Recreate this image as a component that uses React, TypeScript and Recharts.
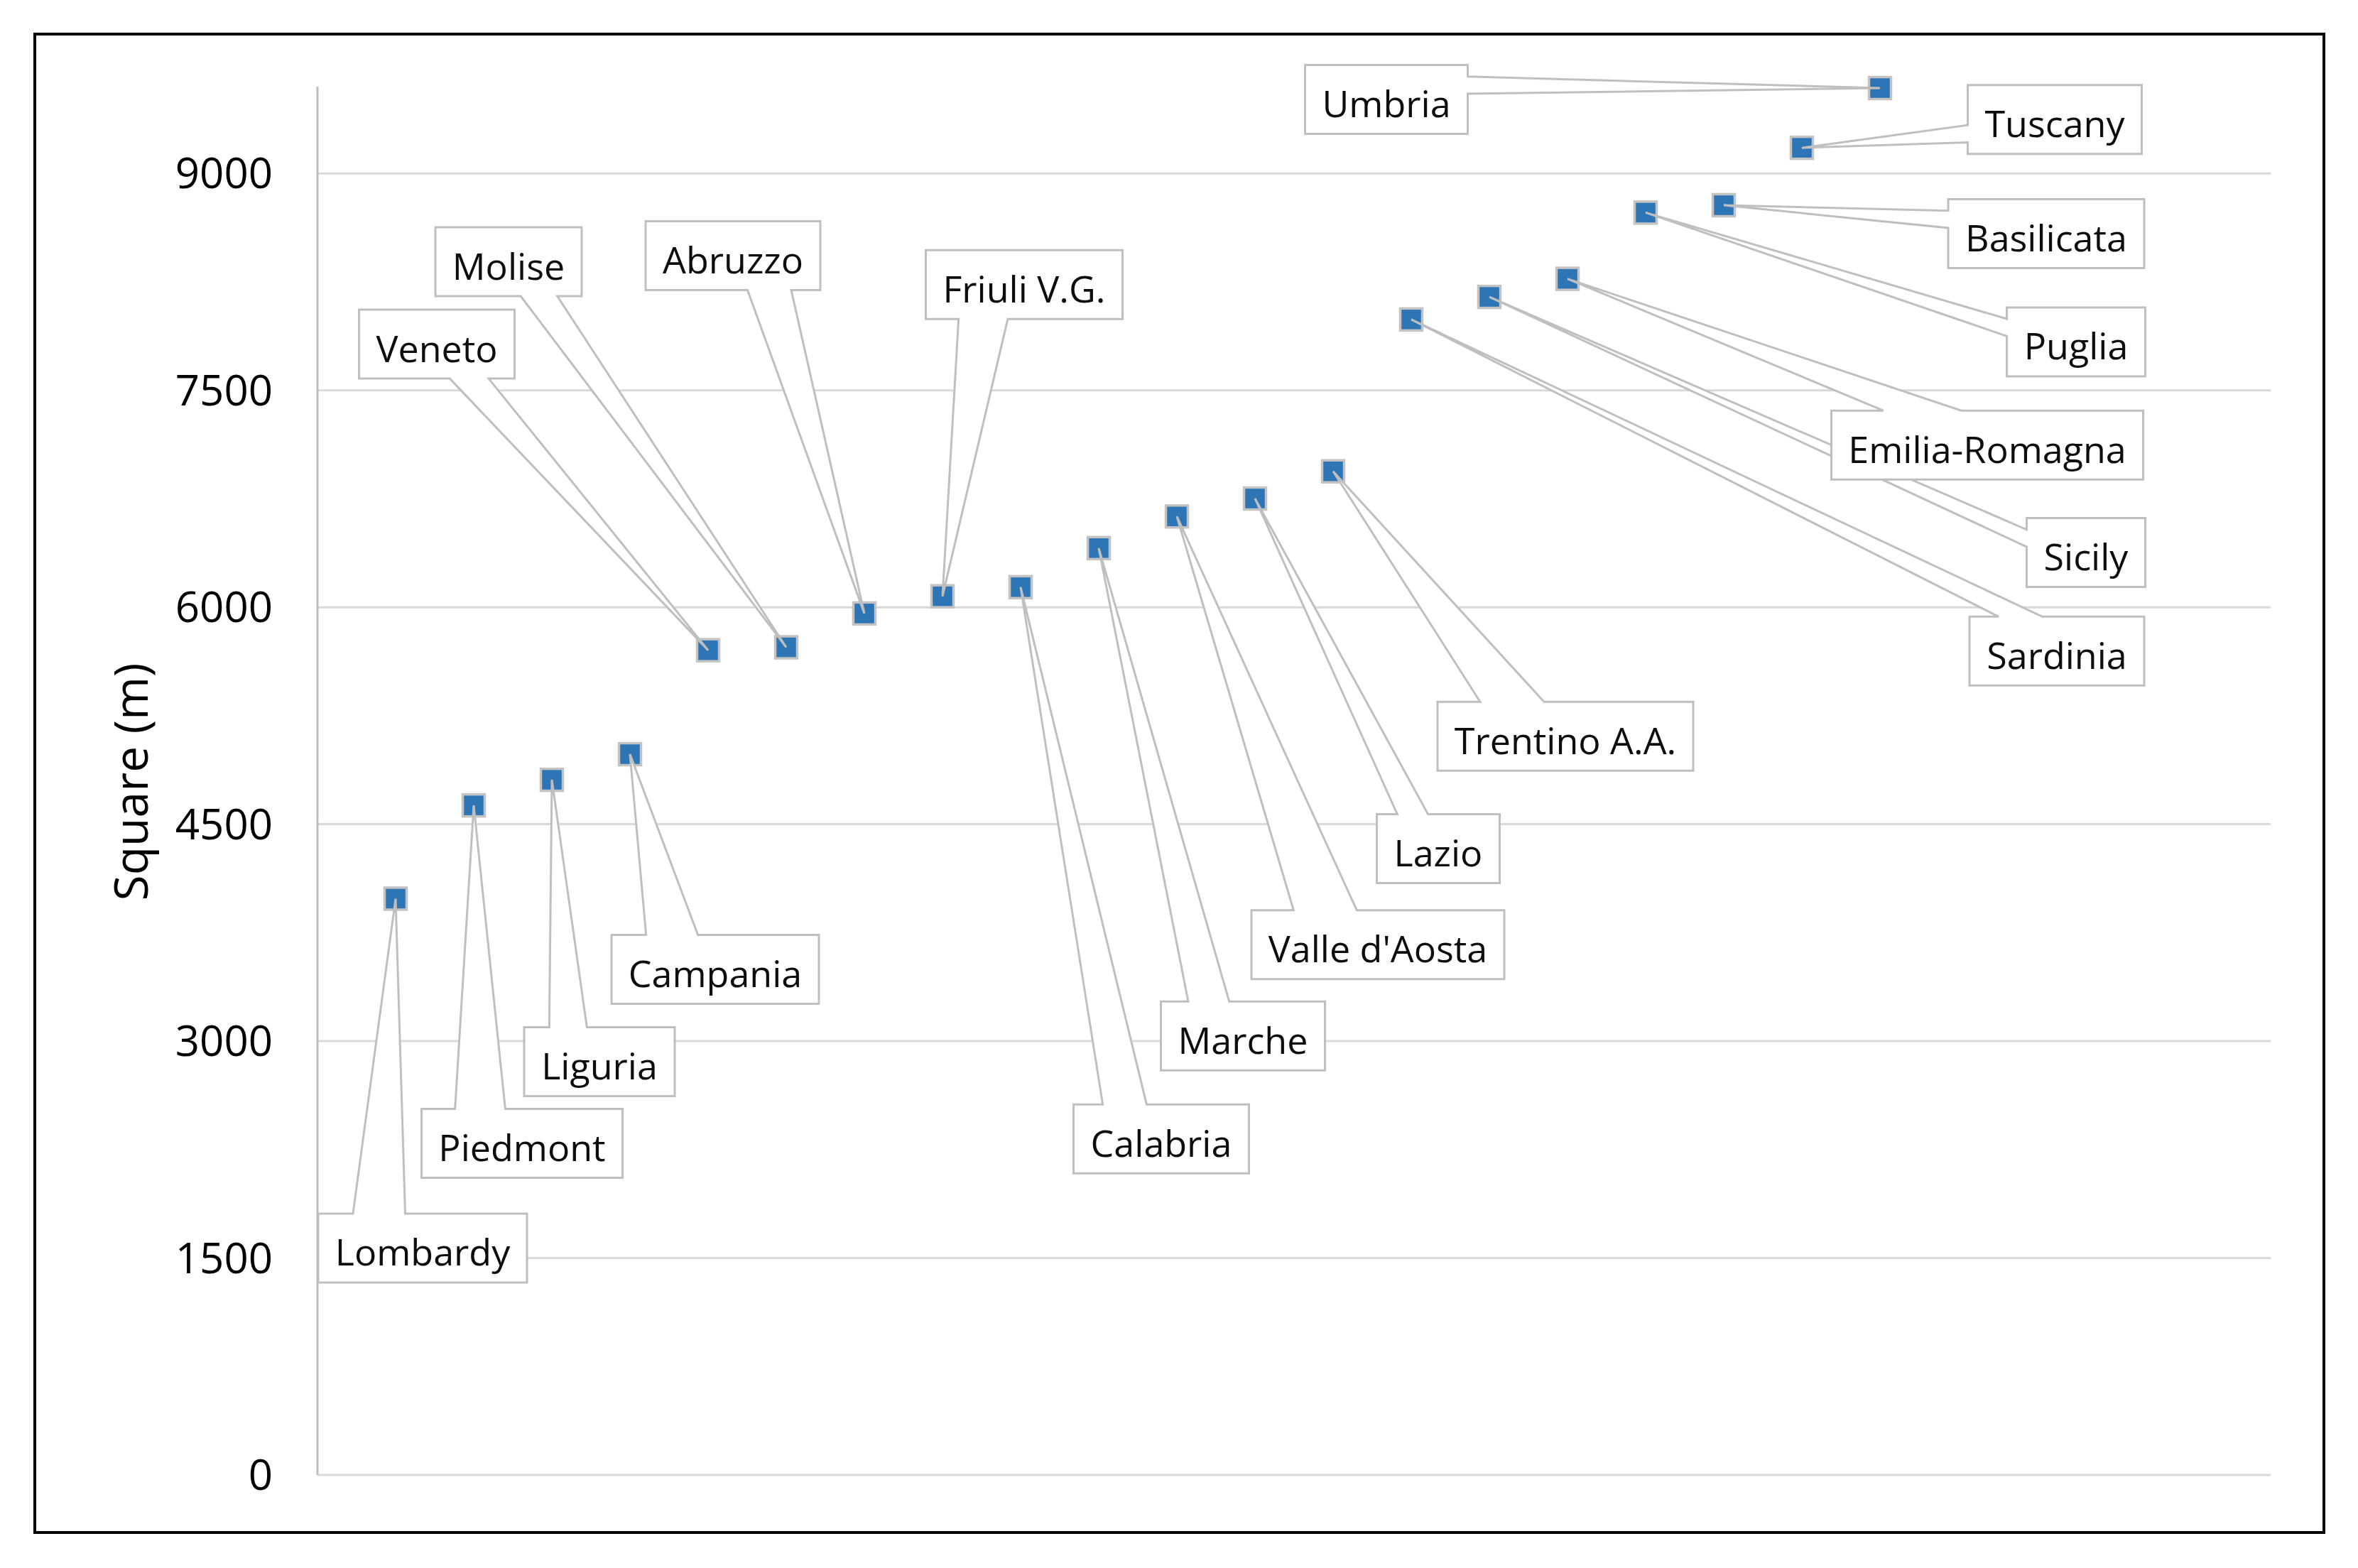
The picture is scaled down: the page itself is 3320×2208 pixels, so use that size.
import React from "react"
import { ScatterChart, Scatter, XAxis, YAxis, CartesianGrid } from "recharts"

const regions = [
    "Lombardy", "Piedmont", "Liguria", "Campania", "Veneto", "Molise", "Abruzzo",
    "Friuli V.G.", "Calabria", "Marche", "Valle d'Aosta", "Lazio", "Trentino A.A.",
    "Sardinia", "Sicily", "Emilia-Romagna", "Puglia", "Basilicata", "Tuscany", "Umbria",
]
const squareM = [
    3985, 4630, 4807, 4984, 5703, 5723, 5957, 6076, 6139, 6409,
    6628, 6752, 6940, 7990, 8146, 8271, 8729, 8780, 9177, 9590,
]
const yTicks = [0, 1500, 3000, 4500, 6000, 7500, 9000]

// where each callout box sits: centre offset (px) from its marker
const labelOffsets: [number, number][] = [
    [38, 492], [68, 476], [67, 397], [120, 303], [-382, -431],
    [-391, -543], [-185, -504], [115, -439], [198, 777], [203, 687],
    [283, 603], [258, 493], [327, 373], [909, 467], [840, 360],
    [591, 234], [606, 182], [454, 40], [356, -40], [-695, 16],
]

const data = regions.map((name, i) => ({
    x: i + 1,
    y: squareM[i],
    name,
    off: labelOffsets[i],
}))

const FONT = "'Open Sans', 'Noto Sans', sans-serif"
const LABEL_SIZE = 52
const BOX_H = 97
const GRAY = "#BFBFBF"

let measureCtx: CanvasRenderingContext2D | null = null
function textWidth(s: string) {
    if (!measureCtx) {
        measureCtx = document.createElement("canvas").getContext("2d")
    }
    if (!measureCtx) return s.length * LABEL_SIZE * 0.55
    measureCtx.font = `${LABEL_SIZE}px 'Open Sans'`
    return measureCtx.measureText(s).width
}

// excel style wedgeRectCallout outline
function calloutPath(l: number, t: number, w: number, h: number, px: number, py: number) {
    const r = l + w
    const b = t + h
    const dx = px - (l + w / 2)
    const dy = py - (t + h / 2)
    const dz = Math.abs(dy) - Math.abs((dx * h) / w)
    const x1 = l + (w * (dx > 0 ? 7 : 2)) / 12
    const x2 = l + (w * (dx > 0 ? 10 : 5)) / 12
    const y1 = t + (h * (dy > 0 ? 7 : 2)) / 12
    const y2 = t + (h * (dy > 0 ? 10 : 5)) / 12
    const side = dz > 0 ? (dy < 0 ? "top" : "bottom") : dx < 0 ? "left" : "right"
    let d = `M${l},${t}`
    if (side === "top") d += ` L${x1},${t} L${px},${py} L${x2},${t}`
    d += ` L${r},${t}`
    if (side === "right") d += ` L${r},${y1} L${px},${py} L${r},${y2}`
    d += ` L${r},${b}`
    if (side === "bottom") d += ` L${x2},${b} L${px},${py} L${x1},${b}`
    d += ` L${l},${b}`
    if (side === "left") d += ` L${l},${y2} L${px},${py} L${l},${y1}`
    return d + " Z"
}

const Marker = (props: any) => {
    const { cx, cy } = props
    if (cx == null || cy == null) return null
    return (
        <rect x={cx - 15.5} y={cy - 15.5} width={31} height={31}
            fill="#2E75B6" stroke="#C3C3C3" strokeWidth={3.5} />
    )
}

const Callout = (props: any) => {
    const { cx, cy, payload } = props
    if (cx == null || cy == null || !payload) return null
    const [ox, oy] = payload.off
    const w = Math.round(textWidth(payload.name) + 48)
    const bx = cx + ox
    const by = cy + oy
    const l = bx - w / 2
    const t = by - BOX_H / 2
    return (
        <g>
            <path d={calloutPath(l, t, w, BOX_H, cx, cy)} fill="#fff" stroke={GRAY} strokeWidth={3} />
            <text x={bx} y={by + 25} textAnchor="middle" fontSize={LABEL_SIZE}
                fontFamily={FONT} fill="#0D0D0D">
                {payload.name}
            </text>
        </g>
    )
}

const gridRows = ({ yAxis, offset }: any) =>
    yTicks.map((t) =>
        yAxis && typeof yAxis.scale === "function"
            ? yAxis.scale(t)
            : offset.top + offset.height * (1 - t / 9600)
    )

export default function App() {
    return (
        <div style={{ position: "absolute", left: 0, top: 0, width: 3320, height: 2208, background: "#fff" }}>
            <ScatterChart width={3320} height={2208} margin={{ top: 122, right: 123, bottom: 131, left: 0 }}>
                <CartesianGrid vertical={false} stroke="#D9D9D9" strokeWidth={3}
                    horizontalCoordinatesGenerator={gridRows} />
                <XAxis type="number" dataKey="x" domain={[0, 25]} hide />
                <YAxis
                    type="number"
                    dataKey="y"
                    domain={[0, 9600]}
                    ticks={yTicks}
                    width={447}
                    axisLine={{ stroke: GRAY, strokeWidth: 3 }}
                    tickLine={false}
                    tickSize={0}
                    tickMargin={63}
                    tick={{ fontSize: 60, fill: "#000", fontFamily: FONT }}
                    label={{
                        content: () => (
                            <text x={208} y={1101} transform="rotate(-90 208 1101)" textAnchor="middle"
                                fontSize={66} fontFamily={FONT} fill="#000">
                                Square (m)
                            </text>
                        ),
                    }}
                />
                <Scatter data={data} shape={<Marker />} isAnimationActive={false} />
                <Scatter data={data} shape={<Callout />} isAnimationActive={false} />
            </ScatterChart>
            <div style={{
                position: "absolute", left: 47, top: 46, width: 3227, height: 2114,
                border: "4px solid #000", boxSizing: "border-box", pointerEvents: "none",
            }} />
        </div>
    )
}
